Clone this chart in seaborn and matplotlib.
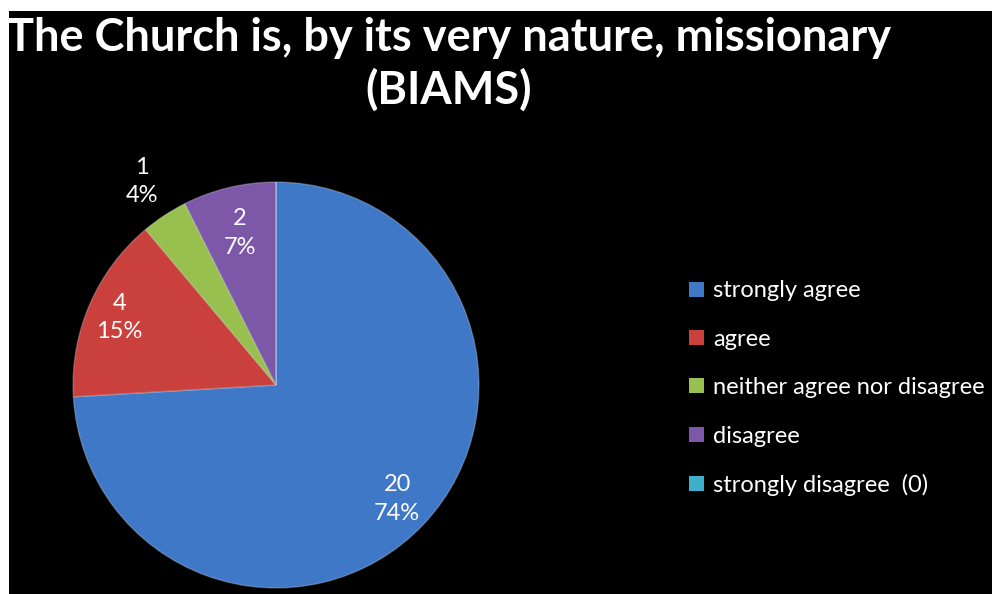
import numpy as np
import matplotlib
matplotlib.use("Agg")
import matplotlib.pyplot as plt
from matplotlib.patches import Patch, Rectangle
import seaborn as sns

# Survey responses
categories = ["strongly agree", "agree", "neither agree nor disagree",
              "disagree", "strongly disagree  (0)"]
counts = [20, 4, 1, 2, 0]
colors = ["#3f78c6", "#c9403d", "#98c04e", "#7d58a8", "#3fb0cc"]
title_lines = ["The Church is, by its very nature, missionary", "(BIAMS)"]

sns.set_theme(style="dark")
plt.rcParams["font.family"] = ["Lato", "DejaVu Sans"]

W, H = 992, 594
fig = plt.figure(figsize=(W / 100, H / 100), dpi=100, facecolor="black")

# Pie axes: centre and radius in pixels
cx, cy, R = 276, 385, 203
pad = 1.05
ax = fig.add_axes([(cx - R * pad) / W, (H - cy - R * pad) / H,
                   2 * R * pad / W, 2 * R * pad / H])
ax.set_facecolor("black")

wedges, _ = ax.pie(counts, colors=colors, startangle=90, counterclock=False,
                   radius=1.0,
                   wedgeprops=dict(edgecolor=(1, 1, 1, 0.25), linewidth=1.0))
ax.set_xlim(-pad, pad)
ax.set_ylim(-pad, pad)
ax.set_aspect("equal")
ax.axis("off")

# Value / percentage labels
total = sum(counts)
label_dist = [0.82, 0.84, 1.2, 0.77, 0.8]
for w, c, d in zip(wedges, counts, label_dist):
    if c == 0:
        continue
    ang = np.deg2rad((w.theta1 + w.theta2) / 2)
    pct = round(100 * c / total)
    ax.text(d * np.cos(ang), d * np.sin(ang), f"{c}\n{pct}%",
            ha="center", va="center", color="white", fontsize=17,
            linespacing=1.45)

# Legend
handles = [Patch(facecolor=col, edgecolor="none", label=lab)
           for col, lab in zip(colors, categories)]
fig.legend(handles=handles, loc="upper left",
           bbox_to_anchor=(680 / W, 1 - 271 / H), frameon=False,
           labelcolor="white", fontsize=17, handlelength=0.6,
           handleheight=0.6, handletextpad=0.4, labelspacing=1.16,
           borderaxespad=0.0)

# Title
fig.text(449 / W, 1 - 38 / H, title_lines[0], ha="center", va="center",
         color="white", fontsize=32.5, fontweight="bold")
fig.text(449 / W, 1 - 90 / H, title_lines[1], ha="center", va="center",
         color="white", fontsize=32.5, fontweight="bold")

# Light frame strips along the top and left edges
fig.patches.append(Rectangle((0, 1 - 11 / H), 1, 11 / H, transform=fig.transFigure,
                             facecolor="white", edgecolor="none", zorder=10))
fig.patches.append(Rectangle((0, 0), 9 / W, 1, transform=fig.transFigure,
                             facecolor="white", edgecolor="none", zorder=10))

fig.savefig("out.png", dpi=100, facecolor="black")
